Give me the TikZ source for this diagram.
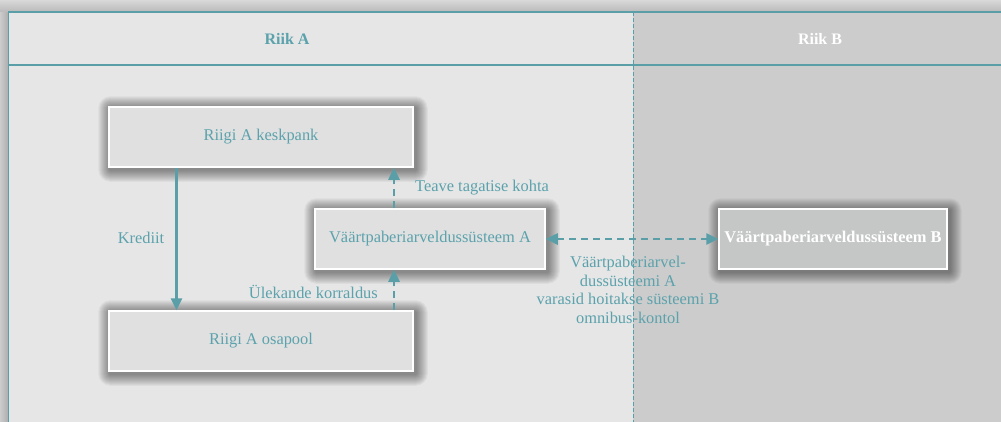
\documentclass[tikz,border=0pt]{standalone}
\usepackage{fontspec}
\setmainfont{Liberation Serif}
\usetikzlibrary{arrows.meta}
\pgfdeclarelayer{bg}
\pgfdeclarelayer{shadowlayer}
\pgfsetlayers{bg,shadowlayer,main}
\definecolor{teal1}{HTML}{5A9FA8}
\definecolor{tealtext}{HTML}{5BA2AC}
\definecolor{regA}{HTML}{E6E6E6}
\definecolor{regB}{HTML}{CCCCCC}
\definecolor{boxA}{HTML}{E0E0E0}
\definecolor{boxB}{HTML}{C5C6C6}
\tikzset{
  boxstyle/.style={draw=white, line width=1.5pt, fill=boxA, text=tealtext,
    font=\fontsize{16.4}{18.5}\selectfont, inner sep=0pt},
  boxBstyle/.style={boxstyle, fill=boxB, text=white, font=\fontsize{16.4}{18.5}\selectfont\bfseries},
  lbl/.style={text=tealtext, font=\fontsize{16.4}{18.5}\selectfont, inner sep=0pt},
  hdr/.style={font=\fontsize{16}{18.5}\selectfont\bfseries, inner sep=0pt},
  solidarrow/.style={draw=teal1, line width=2.5pt, -{Triangle[length=12pt,width=11pt]}},
  dasharrow/.style={draw=teal1, line width=2.5pt, dash pattern=on 7pt off 5pt, -{Triangle[length=12pt,width=11pt]}},
  dasharrowboth/.style={dasharrow, {Triangle[length=12pt,width=11pt]}-{Triangle[length=12pt,width=11pt]}},
}
\newcommand{\softshadow}[1]{%
  \begin{pgfonlayer}{shadowlayer}
  \foreach \r in {1,...,12} {
    \fill[black, opacity=0.04, rounded corners=\r pt]
      ([xshift=2pt-\r pt, yshift=-2pt-\r pt]#1.south west) rectangle
      ([xshift=2pt+\r pt, yshift=-2pt+\r pt]#1.north east);
  }
  \end{pgfonlayer}}
\begin{document}
\begin{tikzpicture}[x=1pt,y=-1pt]
\useasboundingbox (0,0) rectangle (1001,421);
\begin{pgfonlayer}{bg}
\begin{scope}
\clip (0,0) rectangle (1001,421);
\fill[gray!35] (0,0) rectangle (1001,421);
\shade[top color=gray!30, bottom color=gray!55] (0,0) rectangle (1001,12);
\shade[left color=gray!40, right color=gray!65] (0,12) rectangle (8.5,421);
\fill[regA] (8.5,12) rectangle (633,450);
\fill[regB] (633,12) rectangle (1030,450);
\draw[teal1, line width=1.5pt] (8.5,450) -- (8.5,12) -- (1030,12);
\draw[teal1, line width=2pt] (8.5,64.5) -- (1030,64.5);
\draw[teal1, line width=1pt, dash pattern=on 4pt off 2pt] (633,12) -- (633,450);
\end{scope}
\end{pgfonlayer}
% headers
\node[hdr, text=tealtext] (hA) at (287,39) {Riik A};
\node[hdr, text=white] (hB) at (820,39) {Riik B};
% boxes
\node[boxstyle, minimum width=304pt, minimum height=60pt] (kp) at (261,137) {Riigi A keskpank};
\node[boxstyle, minimum width=304pt, minimum height=60pt] (op) at (261,341) {Riigi A osapool};
\node[boxstyle, minimum width=230pt, minimum height=60pt] (vsa) at (430,239) {Väärtpaberiarveldussüsteem A};
\node[boxBstyle, minimum width=228pt, minimum height=60pt] (vsb) at (833,239) {Väärtpaberiarveldussüsteem B};
\softshadow{kp}
\softshadow{op}
\softshadow{vsa}
\softshadow{vsb}
% connectors
\coordinate (k1) at (176.5,167);
\coordinate (o1) at (176.5,311);
\coordinate (d1) at (394,0);
\draw[solidarrow] (kp.south -| k1) -- (op.north -| o1);
\draw[dasharrow] (vsa.north -| d1) -- (kp.south -| d1);
\draw[dasharrow] (op.north -| d1) -- (vsa.south -| d1);
\draw[dasharrowboth] (vsa.east) -- (vsb.west);
% labels
\node[lbl] (kr) at (141,238) {Krediit};
\node[lbl, anchor=west] (tv) at (415,188) {Teave tagatise kohta};
\node[lbl, anchor=east] (ul) at (378,292) {Ülekande korraldus};
\node[lbl, align=center] (om) at (628,290) {Väärtpaberiarvel-\\dussüsteemi A\\varasid hoitakse süsteemi B\\omnibus-kontol};
\end{tikzpicture}
\end{document}
